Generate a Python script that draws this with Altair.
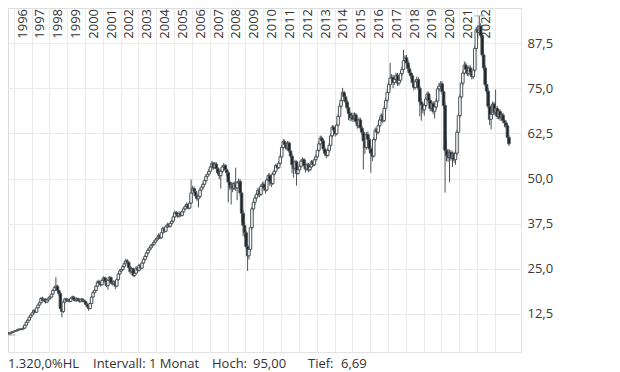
import altair as alt
import pandas as pd

# ---------------- data (monthly candles) ----------------
first_open = 7.4  # open of Aug 1995

close_by_year = {
    1995: [7.3, 7.0, 7.2, 7.5, 7.6],  # Aug-Dec
    1996: [7.8, 7.9, 8.1, 8.3, 8.2, 8.4, 8.6, 9.4, 10.2, 10.8, 11.6, 12.2],
    1997: [12.8, 13.5, 13.0, 14.2, 15.0, 15.6, 16.8, 16.2, 16.5, 15.8, 16.4, 16.9],
    1998: [17.2, 18.0, 19.0, 19.8, 20.2, 19.0, 18.2, 14.0, 13.2, 15.8, 16.6, 16.2],
    1999: [16.4, 16.0, 16.8, 17.2, 16.5, 16.2, 16.7, 16.3, 16.0, 16.6, 16.2, 15.9],
    2000: [15.2, 14.6, 14.0, 15.4, 17.2, 18.4, 19.0, 20.2, 21.4, 21.0, 20.6, 21.8],
    2001: [22.5, 21.6, 20.4, 21.8, 22.6, 21.2, 20.8, 21.4, 20.2, 22.0, 23.6, 24.4],
    2002: [24.8, 25.6, 26.4, 27.2, 26.8, 25.4, 24.2, 25.0, 23.2, 23.8, 25.2, 24.6],
    2003: [26.0, 25.2, 26.6, 27.6, 28.4, 29.4, 30.2, 30.8, 31.4, 31.8, 32.4, 33.0],
    2004: [33.4, 34.2, 33.6, 35.0, 36.2, 35.4, 36.6, 37.2, 36.8, 37.6, 38.2, 39.4],
    2005: [40.6, 40.0, 39.6, 40.4, 39.8, 40.8, 41.6, 42.2, 42.8, 41.8, 43.2, 46.0],
    2006: [47.2, 46.4, 45.2, 44.4, 45.0, 46.8, 47.6, 48.4, 49.4, 50.6, 51.2, 52.0],
    2007: [53.2, 54.2, 53.0, 54.0, 52.8, 51.6, 50.8, 52.0, 53.2, 53.6, 52.4, 51.6],
    2008: [49.0, 47.6, 48.2, 47.2, 48.6, 47.4, 48.8, 49.2, 46.0, 40.4, 37.0, 35.0],
    2009: [31.2, 28.6, 30.4, 36.4, 41.6, 43.4, 44.6, 45.6, 46.8, 45.6, 47.8, 48.4],
    2010: [47.4, 46.8, 49.6, 50.8, 49.2, 48.6, 51.2, 52.0, 53.6, 53.0, 54.2, 56.0],
    2011: [58.6, 60.2, 59.4, 58.4, 59.8, 57.6, 56.2, 53.8, 52.8, 54.6, 51.4, 52.4],
    2012: [53.4, 54.8, 55.2, 53.6, 52.6, 53.8, 52.4, 53.2, 54.6, 53.8, 55.2, 56.0],
    2013: [57.8, 59.6, 61.2, 60.4, 58.2, 57.0, 56.4, 57.8, 59.2, 61.8, 64.2, 63.4],
    2014: [62.4, 64.8, 67.2, 70.0, 71.6, 73.8, 72.6, 71.2, 69.6, 68.0, 66.8, 67.4],
    2015: [66.4, 67.6, 65.8, 64.6, 66.2, 64.0, 62.8, 60.4, 58.6, 62.2, 60.8, 58.2],
    2016: [57.0, 56.2, 60.8, 63.4, 62.8, 64.6, 66.2, 67.4, 66.0, 69.4, 71.6, 73.8],
    2017: [76.0, 77.8, 78.0, 76.6, 77.4, 78.6, 76.4, 77.2, 79.0, 80.2, 82.6, 83.4],
    2018: [82.0, 80.4, 79.2, 78.4, 76.6, 75.2, 76.8, 77.4, 75.0, 71.2, 70.4, 69.0],
    2019: [70.2, 72.0, 73.4, 71.6, 69.4, 70.8, 68.6, 69.8, 71.4, 74.8, 75.6, 76.2],
    2020: [74.0, 70.2, 57.8, 56.4, 55.8, 57.2, 55.6, 56.8, 55.2, 57.0, 62.8, 67.4],
    2021: [72.6, 76.4, 79.2, 81.4, 80.2, 79.0, 80.6, 79.4, 78.2, 80.0, 86.0, 91.2],
    2022: [90.4, 92.2, 89.6, 84.2, 80.6, 76.0, 74.2, 70.0, 66.4, 67.8, 70.6, 68.2],
    2023: [69.4, 67.2, 68.6, 66.8, 67.6, 66.0, 65.4, 64.6, 61.4, 59.6],  # Jan-Oct
}

high_by_year = {
    1995: [7.6, 7.4, 7.3, 7.6, 7.8],
    1996: [7.9, 8.1, 8.3, 8.5, 8.5, 8.6, 8.8, 9.6, 10.5, 11.1, 11.9, 12.6],
    1997: [13.1, 13.8, 13.7, 14.5, 15.4, 16.0, 17.2, 17.3, 16.9, 16.9, 16.8, 17.3],
    1998: [17.6, 18.3, 19.3, 20.3, 22.7, 20.6, 19.4, 18.5, 14.8, 16.1, 17.0, 17.0],
    1999: [16.9, 16.7, 17.1, 17.6, 17.5, 16.9, 17.1, 17.0, 16.7, 16.9, 16.9, 16.5],
    2000: [16.2, 15.5, 14.9, 15.7, 17.5, 18.8, 19.4, 20.5, 21.8, 22.0, 21.5, 22.1],
    2001: [22.9, 22.8, 21.9, 22.2, 23.0, 22.9, 21.6, 21.9, 21.7, 22.4, 24.0, 24.9],
    2002: [25.3, 26.0, 26.9, 27.8, 27.7, 27.1, 25.8, 25.5, 25.3, 24.4, 25.7, 25.6],
    2003: [26.4, 26.3, 27.0, 28.0, 28.9, 29.8, 30.7, 31.3, 31.9, 32.3, 32.9, 33.5],
    2004: [33.9, 34.8, 34.6, 35.5, 36.7, 36.6, 37.1, 37.8, 37.7, 38.1, 38.7, 39.9],
    2005: [41.1, 41.0, 40.4, 40.9, 40.8, 41.3, 42.1, 42.8, 43.4, 43.2, 43.7, 49.7],
    2006: [48.0, 47.8, 46.9, 45.8, 45.6, 47.3, 48.1, 48.9, 49.9, 51.1, 51.8, 52.6],
    2007: [53.8, 54.9, 54.6, 54.6, 54.5, 53.2, 52.2, 52.5, 53.7, 54.3, 54.0, 53.0],
    2008: [52.0, 49.6, 49.0, 48.9, 49.2, 53.0, 49.3, 50.0, 49.8, 46.6, 41.2, 37.9],
    2009: [35.6, 31.9, 31.2, 37.0, 42.2, 44.0, 45.2, 46.2, 47.5, 47.4, 48.3, 49.0],
    2010: [49.2, 48.0, 50.1, 51.4, 51.5, 49.9, 51.7, 52.6, 54.1, 54.2, 54.8, 56.6],
    2011: [59.2, 60.9, 60.8, 59.9, 60.4, 60.3, 58.1, 56.8, 54.6, 55.2, 55.0, 53.1],
    2012: [54.0, 55.3, 55.8, 55.7, 54.1, 54.4, 54.3, 53.8, 55.1, 55.1, 55.7, 56.6],
    2013: [58.4, 60.2, 61.9, 61.8, 60.9, 58.8, 57.6, 58.4, 59.8, 62.4, 64.8, 64.7],
    2014: [64.0, 65.4, 67.8, 70.7, 72.3, 75.1, 74.3, 73.2, 71.8, 70.1, 68.5, 68.2],
    2015: [68.2, 68.3, 68.1, 66.4, 66.9, 66.8, 64.6, 63.5, 61.1, 62.9, 63.0, 61.4],
    2016: [59.0, 58.2, 61.5, 64.1, 64.0, 65.3, 66.9, 68.1, 68.0, 70.1, 72.3, 74.6],
    2017: [76.8, 82.0, 78.9, 78.7, 78.2, 79.3, 79.2, 77.9, 79.8, 81.0, 85.6, 84.1],
    2018: [84.2, 82.7, 81.0, 79.9, 79.0, 77.3, 77.5, 78.2, 78.0, 75.7, 72.2, 71.1],
    2019: [70.9, 72.7, 74.1, 74.0, 72.2, 71.5, 71.4, 70.5, 72.1, 75.5, 76.5, 76.9],
    2020: [76.9, 74.6, 71.0, 61.0, 58.2, 58.0, 57.9, 57.5, 57.4, 57.8, 63.5, 68.1],
    2021: [73.3, 77.1, 79.9, 82.4, 82.1, 80.9, 81.3, 81.3, 80.0, 80.8, 86.8, 92.0],
    2022: [92.4, 95.0, 93.0, 90.3, 85.0, 81.3, 76.8, 75.0, 70.8, 68.6, 71.3, 71.2],
    2023: [74.6, 70.1, 69.3, 69.2, 68.3, 68.2, 66.7, 66.1, 65.2, 62.0],
}

low_by_year = {
    1995: [7.1, 6.9, 6.69, 7.0, 7.3],
    1996: [7.4, 7.6, 7.7, 7.9, 8.0, 8.0, 8.2, 8.4, 9.2, 9.9, 10.6, 11.3],
    1997: [11.9, 12.5, 12.7, 12.8, 14.0, 14.7, 15.4, 15.9, 15.9, 15.4, 15.5, 16.1],
    1998: [16.5, 16.9, 17.8, 18.7, 19.4, 18.6, 17.6, 13.6, 11.6, 12.8, 15.4, 15.8],
    1999: [15.8, 15.7, 15.8, 16.5, 16.2, 15.9, 15.9, 16.0, 15.6, 15.7, 15.8, 15.5],
    2000: [15.0, 14.3, 13.4, 13.8, 15.1, 16.9, 18.1, 18.8, 19.9, 20.6, 20.1, 20.3],
    2001: [21.4, 21.2, 19.9, 19.2, 21.5, 20.9, 20.4, 20.5, 19.4, 19.9, 21.7, 23.3],
    2002: [24.0, 24.5, 25.3, 26.1, 26.4, 25.1, 23.6, 23.9, 22.8, 22.7, 23.5, 24.2],
    2003: [24.2, 24.8, 24.9, 26.2, 27.3, 28.1, 29.0, 29.8, 30.4, 31.0, 31.4, 32.0],
    2004: [32.6, 33.1, 33.2, 33.3, 34.7, 35.0, 35.1, 36.3, 36.4, 36.4, 37.2, 37.9],
    2005: [39.0, 39.6, 39.1, 39.2, 39.4, 39.5, 40.5, 41.2, 41.9, 41.4, 41.5, 42.9],
    2006: [45.5, 45.9, 44.8, 43.8, 42.0, 44.6, 46.4, 47.1, 47.9, 49.0, 50.1, 50.8],
    2007: [51.6, 52.7, 52.4, 52.6, 52.4, 51.2, 49.8, 47.2, 51.5, 52.7, 51.9, 50.6],
    2008: [43.4, 46.8, 42.8, 46.2, 46.8, 46.6, 44.0, 48.1, 45.2, 37.8, 34.0, 33.6],
    2009: [30.5, 24.4, 27.6, 29.8, 35.8, 40.7, 42.6, 43.9, 45.0, 44.8, 45.2, 47.1],
    2010: [46.6, 45.8, 46.4, 49.1, 48.0, 47.6, 48.2, 50.8, 51.6, 52.5, 52.6, 53.8],
    2011: [55.6, 58.1, 58.9, 57.8, 58.0, 57.1, 55.7, 51.4, 50.2, 52.2, 48.0, 51.0],
    2012: [51.9, 52.9, 54.3, 53.1, 51.6, 52.1, 51.7, 52.0, 52.8, 53.3, 53.4, 54.8],
    2013: [55.6, 57.3, 59.1, 59.8, 57.6, 56.3, 55.6, 56.0, 57.4, 58.7, 61.3, 62.6],
    2014: [61.6, 61.9, 64.3, 66.6, 69.4, 71.0, 71.9, 70.5, 68.9, 66.2, 65.8, 66.0],
    2015: [65.6, 65.8, 65.2, 63.8, 64.0, 63.3, 62.0, 52.5, 56.8, 58.0, 60.1, 57.4],
    2016: [51.6, 54.8, 55.8, 60.2, 62.1, 62.2, 64.0, 65.6, 65.3, 65.6, 68.8, 71.0],
    2017: [73.1, 74.6, 77.0, 75.0, 75.9, 76.8, 75.6, 75.7, 76.6, 78.4, 79.6, 81.9],
    2018: [81.2, 79.6, 78.5, 77.6, 75.9, 74.4, 74.7, 76.1, 74.2, 67.2, 66.0, 68.0],
    2019: [67.4, 69.6, 71.4, 70.8, 68.6, 68.7, 67.8, 66.6, 69.1, 70.8, 74.1, 75.0],
    2020: [73.3, 69.6, 46.1, 54.8, 54.6, 49.0, 54.9, 53.2, 54.4, 53.8, 56.4, 62.2],
    2021: [66.8, 71.8, 75.7, 78.6, 79.4, 78.4, 78.3, 78.7, 77.4, 77.6, 79.4, 85.4],
    2022: [88.6, 89.8, 88.9, 83.6, 79.9, 75.4, 73.5, 69.3, 64.8, 63.6, 67.1, 67.5],
    2023: [67.5, 66.5, 66.4, 66.0, 66.1, 65.3, 64.2, 63.9, 60.8, 59.0],
}

top_years = list(range(1996, 2023))
grid_years = list(range(1996, 2024))
y_ticks = [12.5, 25.0, 37.5, 50.0, 62.5, 75.0, 87.5]
footer_texts = ["1.320,0%HL", "Intervall: 1 Monat", "Hoch:", "95,00", "Tief:", "6,69"]

# ---------------- table ----------------
yrs = sorted(close_by_year)
close = [v for y in yrs for v in close_by_year[y]]
high = [v for y in yrs for v in high_by_year[y]]
low = [v for y in yrs for v in low_by_year[y]]
assert len(close) == len(high) == len(low)
opens = [first_open] + close[:-1]
dates = pd.date_range("1995-08-01", periods=len(close), freq="MS") + pd.Timedelta(days=14)
df = pd.DataFrame({"date": dates, "open": opens, "high": high, "low": low, "close": close})

hi_row = df.loc[df["high"].idxmax()]
lo_row = df.loc[df["low"].idxmin()]
ext = pd.DataFrame({"date": [hi_row["date"], lo_row["date"]],
                    "value": [hi_row["high"], lo_row["low"]]})

lab = pd.DataFrame({"mid": pd.to_datetime([f"{y}-07-01" for y in top_years]),
                    "label": [str(y) for y in top_years]})

# ---------------- scales / axes ----------------
FONT = "Open Sans"
GRID = "#ebebeb"
EDGE = "#4b5257"
x_scale = alt.Scale(domain=[alt.DateTime(year=1995, month=12, date=18),
                            alt.DateTime(year=2024, month=3, date=8)])
x_axis = alt.Axis(values=[alt.DateTime(year=y, month=1, date=1) for y in grid_years],
                  labels=False, ticks=False, grid=True, gridColor=GRID,
                  domainColor="#e3e3e3", title=None)
y_scale = alt.Scale(domain=[1.98, 97.19], nice=False, zero=False)
y_axis = alt.Axis(orient="right", values=y_ticks,
                  labelExpr="replace(format(datum.value, '.1f'), '.', ',')",
                  ticks=False, labelPadding=6, grid=True, gridColor=GRID,
                  domainColor="#e3e3e3", labelFontSize=13, labelColor="#3a3a3a",
                  labelFont=FONT, title=None)

X = alt.X("date:T", scale=x_scale, axis=x_axis)

wicks = alt.Chart(df).mark_rule(color=EDGE, strokeWidth=1, clip=True).encode(
    x=X, y=alt.Y("low:Q", scale=y_scale, axis=y_axis), y2="high:Q")

bodies = alt.Chart(df).mark_bar(size=2.5, stroke=EDGE, strokeWidth=1, clip=True).encode(
    x=X, y=alt.Y("open:Q", scale=y_scale, axis=y_axis), y2="close:Q",
    fill=alt.condition(alt.datum.close >= alt.datum.open,
                       alt.value("#ffffff"), alt.value("#1c2024")))

extremes = alt.Chart(ext).mark_tick(orient="horizontal", size=11, thickness=1,
                                    color="#8c8c8c", clip=True).encode(
    x=X, y=alt.Y("value:Q", scale=y_scale, axis=y_axis))

year_text = alt.Chart(lab).mark_text(angle=270, align="right", baseline="middle",
                                     fontSize=13, color="#333333", font=FONT).encode(
    x=alt.X("mid:T", scale=x_scale, axis=x_axis), y=alt.value(1), text="label:N")

footer_x = [0, 85, 204, 245, 300, 333]
footers = []
for t, xp in zip(footer_texts, footer_x):
    footers.append(
        alt.Chart(pd.DataFrame({"t": [t]})).mark_text(
            align="left", baseline="alphabetic", fontSize=13, color="#333333", font=FONT
        ).encode(x=alt.value(xp), y=alt.value(360), text="t:N")
    )

chart = alt.layer(wicks, bodies, extremes, year_text, *footers).properties(
    width=513, height=344,
    padding={"left": 0, "top": 0, "right": 70, "bottom": 20},
    autosize=alt.AutoSizeParams(type="none"),
).configure_view(stroke=None).configure(font=FONT, background="white")

chart.save("out.html", embed_options={"renderer": "svg", "actions": False})
